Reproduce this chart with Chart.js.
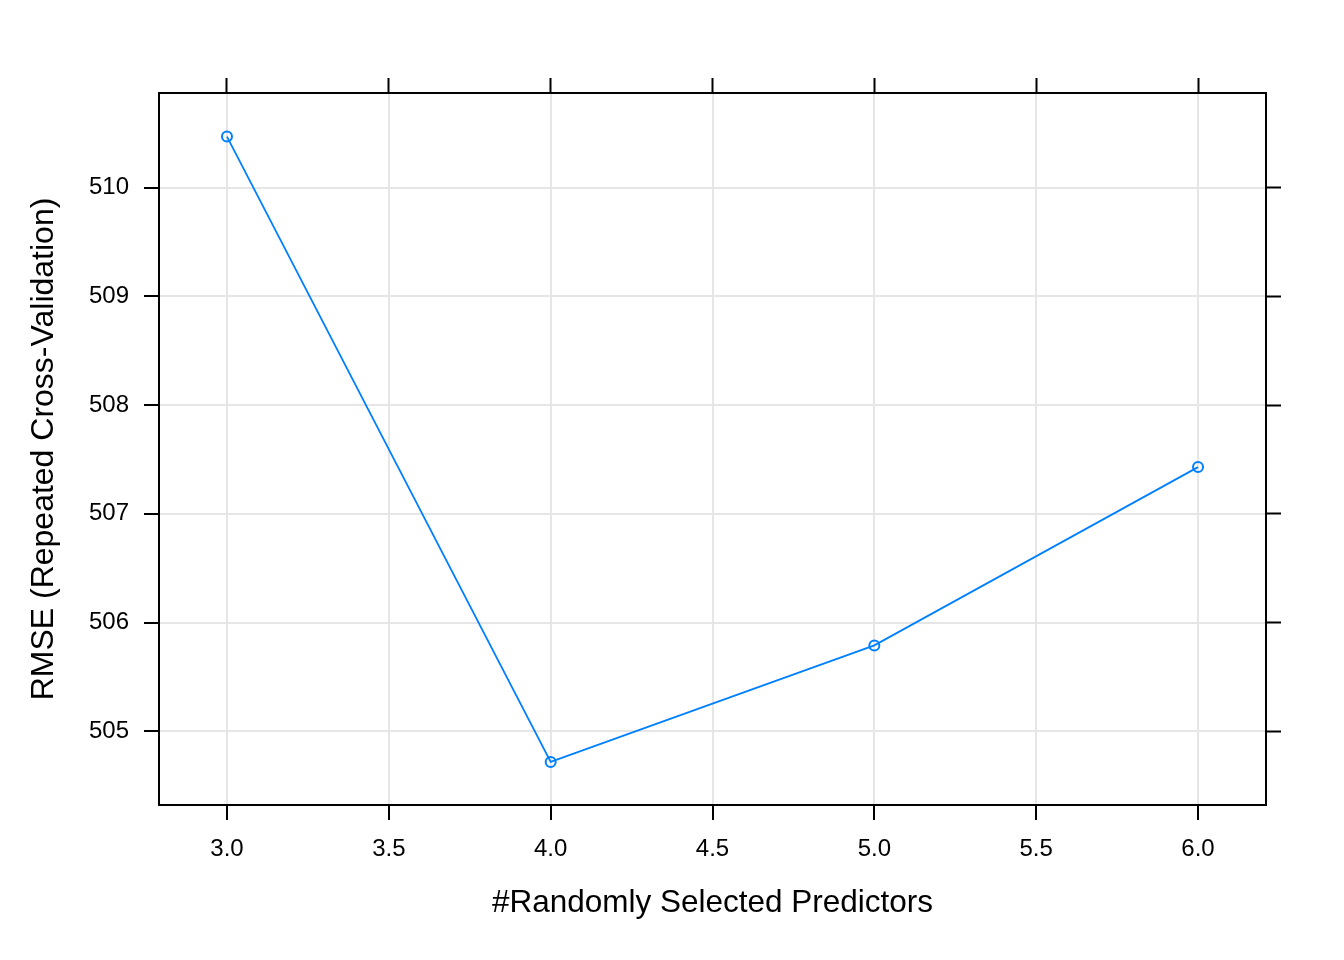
<!DOCTYPE html>
<html lang="en">
<head>
    <meta charset="UTF-8">
    <title>RMSE vs Randomly Selected Predictors</title>
    <script src="https://cdn.jsdelivr.net/npm/chart.js"></script>
    <style>
        body {
            margin: 0;
            padding: 0;
            background-color: #ffffff;
        }

        #chart-box {
            width: 1344px;
            height: 960px;
        }
    </style>
</head>
<body>
    <div id="chart-box">
        <canvas id="rmse-chart"></canvas>
    </div>

    <script>
        // values
        const predictors = [3, 4, 5, 6];
        const rmseValues = [510.47, 504.718, 505.79, 507.43];
        const xTicks = [3.0, 3.5, 4.0, 4.5, 5.0, 5.5, 6.0];
        const yTicks = [505, 506, 507, 508, 509, 510];
        const xRange = [2.79, 6.21];
        const yRange = [504.322, 510.871];

        const lineBlue = '#0080ff';
        const fontFamily = 'Arial, "Liberation Sans", sans-serif';

        function fixTicks(list) {
            return function (scale) {
                scale.ticks = list.map(v => ({ value: v }));
            };
        }

        const frameBorder = { display: true, color: '#000000', width: 2 };

        let ctx = document.getElementById('rmse-chart').getContext('2d');
        let rmseChart = new Chart(ctx, {
            type: 'scatter',
            data: {
                datasets: [{
                    label: 'RMSE',
                    data: predictors.map((p, i) => ({ x: p, y: rmseValues[i] })),
                    showLine: true,
                    borderColor: lineBlue,
                    borderWidth: 1.8,
                    tension: 0,
                    pointStyle: 'circle',
                    pointRadius: 5,
                    pointBorderWidth: 2,
                    pointBorderColor: lineBlue,
                    pointBackgroundColor: 'rgba(0,0,0,0)'
                }]
            },
            options: {
                responsive: true,
                maintainAspectRatio: false,
                animation: false,
                layout: {
                    padding: { top: 78, right: 63, left: 0, bottom: 0 }
                },
                plugins: {
                    legend: { display: false },
                    tooltip: { enabled: false }
                },
                scales: {
                    x: {
                        type: 'linear',
                        position: 'bottom',
                        min: xRange[0],
                        max: xRange[1],
                        afterBuildTicks: fixTicks(xTicks),
                        afterFit: s => { s.height = 155; },
                        border: frameBorder,
                        grid: {
                            color: '#e6e6e6',
                            lineWidth: 2,
                            tickColor: '#000000',
                            tickWidth: 2,
                            tickLength: 15
                        },
                        ticks: {
                            color: '#000000',
                            padding: 15,
                            maxRotation: 0,
                            font: { family: fontFamily, size: 24 },
                            callback: v => Number(v).toFixed(1)
                        },
                        title: {
                            display: true,
                            text: '#Randomly Selected Predictors',
                            color: '#000000',
                            font: { family: fontFamily, size: 31.5 },
                            padding: { top: 0, bottom: 38 }
                        }
                    },
                    y: {
                        type: 'linear',
                        position: 'left',
                        min: yRange[0],
                        max: yRange[1],
                        afterBuildTicks: fixTicks(yTicks),
                        afterFit: s => { s.width = 159; },
                        border: frameBorder,
                        grid: {
                            color: '#e6e6e6',
                            lineWidth: 2,
                            tickColor: '#000000',
                            tickWidth: 2,
                            tickLength: 15
                        },
                        ticks: {
                            color: '#000000',
                            padding: 15,
                            font: { family: fontFamily, size: 24 },
                            callback: v => String(v)
                        },
                        title: {
                            display: true,
                            text: 'RMSE (Repeated Cross-Validation)',
                            color: '#000000',
                            font: { family: fontFamily, size: 32 },
                            padding: { top: 25, bottom: 0 }
                        }
                    },
                    xTop: {
                        type: 'linear',
                        position: 'top',
                        min: xRange[0],
                        max: xRange[1],
                        afterBuildTicks: fixTicks(xTicks),
                        border: frameBorder,
                        grid: {
                            drawOnChartArea: false,
                            tickColor: '#000000',
                            tickWidth: 2,
                            tickLength: 15
                        },
                        ticks: { display: false }
                    },
                    yRight: {
                        type: 'linear',
                        position: 'right',
                        min: yRange[0],
                        max: yRange[1],
                        afterBuildTicks: fixTicks(yTicks),
                        border: frameBorder,
                        grid: {
                            drawOnChartArea: false,
                            tickColor: '#000000',
                            tickWidth: 2,
                            tickLength: 15
                        },
                        ticks: { display: false }
                    }
                }
            }
        });
    </script>
</body>
</html>
